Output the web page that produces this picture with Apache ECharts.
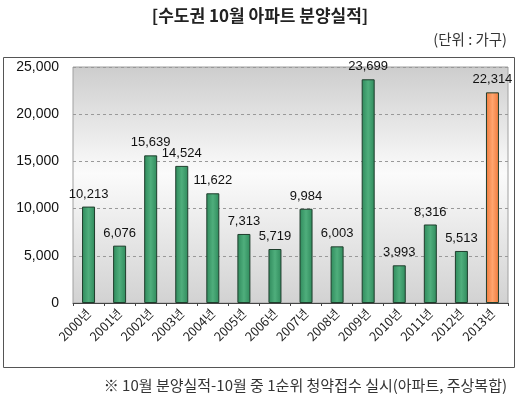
<!DOCTYPE html>
<html>
<head>
<meta charset="utf-8">
<script src="https://cdn.jsdelivr.net/npm/echarts@6/dist/echarts.min.js"></script>
<style>
  html, body { margin: 0; padding: 0; background: #fff; }
  #chart { width: 520px; height: 398px; }
</style>
</head>
<body>
<div id="chart"></div>
<script>
const years = ['2000년', '2001년', '2002년', '2003년', '2004년', '2005년', '2006년',
  '2007년', '2008년', '2009년', '2010년', '2011년', '2012년', '2013년'];
const supply = [10213, 6076, 15639, 14524, 11622, 7313, 5719, 9984, 6003, 23699, 3993, 8316, 5513, 22314];
const yTicks = [0, 5000, 10000, 15000, 20000, 25000];

const KR = '"Noto Sans CJK KR", "Liberation Sans", sans-serif';
const NUM = '"Liberation Sans", Arial, sans-serif';

function barColor(i) {
  if (i === supply.length - 1) {
    return new echarts.graphic.LinearGradient(0, 0, 1, 0, [
      { offset: 0, color: '#ef7a3c' },
      { offset: 0.5, color: '#ffa56e' },
      { offset: 1, color: '#ef7a3c' }
    ]);
  }
  return new echarts.graphic.LinearGradient(0, 0, 1, 0, [
    { offset: 0, color: '#2f8a5c' },
    { offset: 0.5, color: '#4fae7c' },
    { offset: 1, color: '#2f8a5c' }
  ]);
}

const chart = echarts.init(document.getElementById('chart'));
chart.setOption({
  animation: false,
  title: [
    {
      text: '[수도권 10월 아파트 분양실적]',
      left: 'center',
      top: 2,
      textStyle: { fontFamily: KR, fontSize: 17, fontWeight: 'bold', color: '#222' }
    },
    {
      text: '(단위 : 가구)',
      right: 8,
      top: 27,
      textStyle: { fontFamily: KR, fontSize: 14.5, fontWeight: 'normal', color: '#333' }
    },
    {
      text: '※ 10월 분양실적-10월 중 1순위 청약접수 실시(아파트, 주상복합)',
      right: 8,
      top: 373,
      textStyle: { fontFamily: KR, fontSize: 15, fontWeight: 'normal', color: '#333' }
    }
  ],
  graphic: [
    {
      type: 'rect',
      shape: { x: 3.5, y: 57.5, width: 511, height: 310 },
      style: { fill: 'none', stroke: '#555', lineWidth: 1 },
      z: -1
    }
  ],
  grid: {
    left: 73,
    right: 12,
    top: 67,
    bottom: 95,
    show: true,
    borderColor: '#a0a0a0',
    borderWidth: 1,
    backgroundColor: new echarts.graphic.LinearGradient(0, 0, 0, 1, [
      { offset: 0, color: '#cdcdcd' },
      { offset: 0.45, color: '#fbfbfb' },
      { offset: 1, color: '#d2d2d2' }
    ])
  },
  xAxis: {
    type: 'category',
    data: years,
    axisLine: { lineStyle: { color: '#444' } },
    axisTick: { show: true, length: 3, lineStyle: { color: '#444' } },
    axisLabel: {
      rotate: 45,
      fontFamily: KR,
      fontSize: 12.5,
      color: '#222',
      margin: 8
    }
  },
  yAxis: {
    type: 'value',
    min: yTicks[0],
    max: yTicks[yTicks.length - 1],
    interval: 5000,
    axisLine: { show: false },
    axisTick: { show: false },
    splitLine: { lineStyle: { color: '#999', type: [3, 3] } },
    axisLabel: {
      fontFamily: NUM,
      fontSize: 14,
      color: '#111',
      margin: 14,
      formatter: v => v.toLocaleString('en-US')
    }
  },
  series: [
    {
      type: 'bar',
      barWidth: 13,
      data: supply.map((v, i) => ({
        value: v,
        itemStyle: { color: barColor(i), borderColor: '#1f3d2c', borderWidth: 1 }
      })),
      label: {
        show: true,
        position: 'top',
        distance: 6,
        fontFamily: NUM,
        fontSize: 13,
        color: '#111',
        formatter: p => p.value.toLocaleString('en-US')
      }
    }
  ]
});
</script>
</body>
</html>
